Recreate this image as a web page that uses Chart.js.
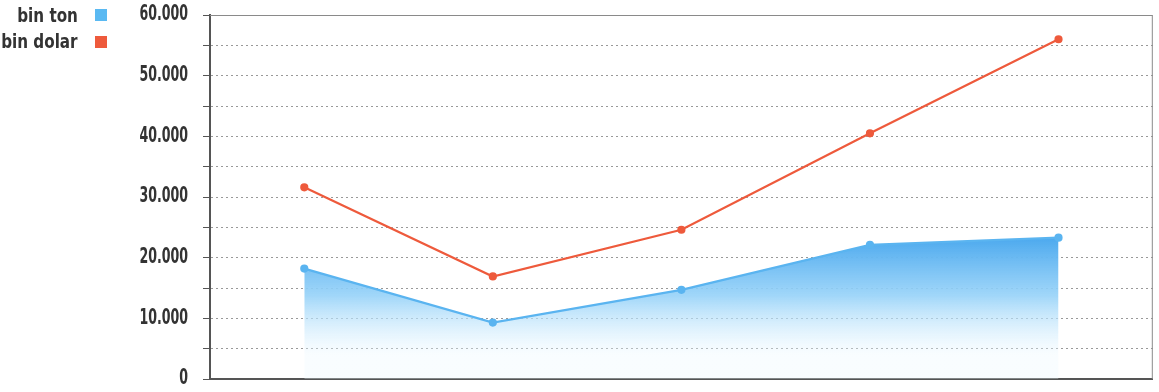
<!DOCTYPE html>
<html>
<head>
<meta charset="utf-8">
<script src="https://cdn.jsdelivr.net/npm/chart.js@4/dist/chart.umd.min.js"></script>
<style>
  body { margin: 0; background: #fff; }
  #wrap { position: relative; width: 1159px; height: 392px; }
  .lg { position: absolute; right: 1081px; white-space: nowrap; font: bold 19px 'DejaVu Sans', sans-serif; color: #333; transform: scaleX(0.8); transform-origin: right center; }
  .sw { position: absolute; left: 95px; width: 12px; height: 12px; }
</style>
</head>
<body>
<div id="wrap">
  <canvas id="mycanvas" width="1159" height="392"></canvas>
  <div class="lg" style="top:4px">bin ton</div>
  <div class="sw" style="top:9px;background:#5ab9f2"></div>
  <div class="lg" style="top:30px">bin dolar</div>
  <div class="sw" style="top:36px;background:#ee5a3c"></div>
</div>
<script>
var labels = ['1', '2', '3', '4', '5'];
var binTon = [18200, 9300, 14700, 22100, 23300];   // blue area
var binDolar = [31600, 16900, 24600, 40500, 56000]; // red line
var yTicks = [0, 10000, 20000, 30000, 40000, 50000, 60000];

// border box around plot + narrow y labels
var boxPlugin = {
  id: 'box',
  afterDraw: function(chart) {
    var a = chart.chartArea, c = chart.ctx;
    c.save();
    c.strokeStyle = '#8a8a8a';
    c.lineWidth = 1;
    c.beginPath();
    c.moveTo(a.left, a.top + 0.5);
    c.lineTo(a.right - 0.5, a.top + 0.5);
    c.lineTo(a.right - 0.5, a.bottom);
    c.stroke();

    var ys = chart.scales.y;
    c.fillStyle = '#333';
    c.font = "bold 21px 'DejaVu Sans', sans-serif";
    c.textAlign = 'right';
    c.textBaseline = 'middle';
    yTicks.forEach(function(v) {
      var txt = v === 0 ? '0' : v.toLocaleString('de-DE');
      c.save();
      c.translate(188, ys.getPixelForValue(v));
      c.scale(0.6, 1);
      c.fillText(txt, 0, 0);
      c.restore();
    });
    c.restore();
  }
};

var ctx = document.getElementById('mycanvas');
new Chart(ctx, {
  type: 'line',
  data: {
    labels: labels,
    datasets: [
      {
        label: 'bin dolar',
        data: binDolar,
        borderColor: '#ee5a3c',
        backgroundColor: '#ee5a3c',
        borderWidth: 2.2,
        pointRadius: 3,
        pointBackgroundColor: '#ee5a3c',
        fill: false,
        tension: 0
      },
      {
        label: 'bin ton',
        data: binTon,
        borderColor: '#5ab4f0',
        borderWidth: 2.2,
        pointRadius: 3,
        pointBackgroundColor: '#5ab4f0',
        fill: 'origin',
        tension: 0,
        backgroundColor: function(context) {
          var chart = context.chart;
          var a = chart.chartArea;
          if (!a) return 'rgba(90,180,240,0.6)';
          var ys = chart.scales.y;
          var g = chart.ctx.createLinearGradient(0, ys.getPixelForValue(23500), 0, ys.getPixelForValue(4000));
          g.addColorStop(0, 'rgba(74,168,238,1)');
          g.addColorStop(0.5, 'rgba(150,210,248,0.9)');
          g.addColorStop(1, 'rgba(235,248,255,0.3)');
          return g;
        }
      }
    ]
  },
  options: {
    responsive: false,
    animation: false,
    layout: { padding: { left: 0, right: 2, top: 15, bottom: 13 } },
    plugins: { legend: { display: false }, tooltip: { enabled: false } },
    scales: {
      x: {
        offset: true,
        ticks: { display: false },
        grid: { display: false, drawTicks: false },
        border: { color: '#555', width: 2 }
      },
      y: {
        min: 0,
        max: 60000,
        afterFit: function(scale) {
          scale.width = 210;
          scale.paddingTop = 0;
          scale.paddingBottom = 0;
        },
        ticks: { stepSize: 5000, display: false },
        grid: {
          color: '#999',
          tickColor: '#555',
          tickLength: 7,
          tickBorderDash: [],
          lineWidth: 1
        },
        border: { color: '#555', width: 2, dash: [2, 3] }
      }
    }
  },
  plugins: [boxPlugin]
});
</script>
</body>
</html>
